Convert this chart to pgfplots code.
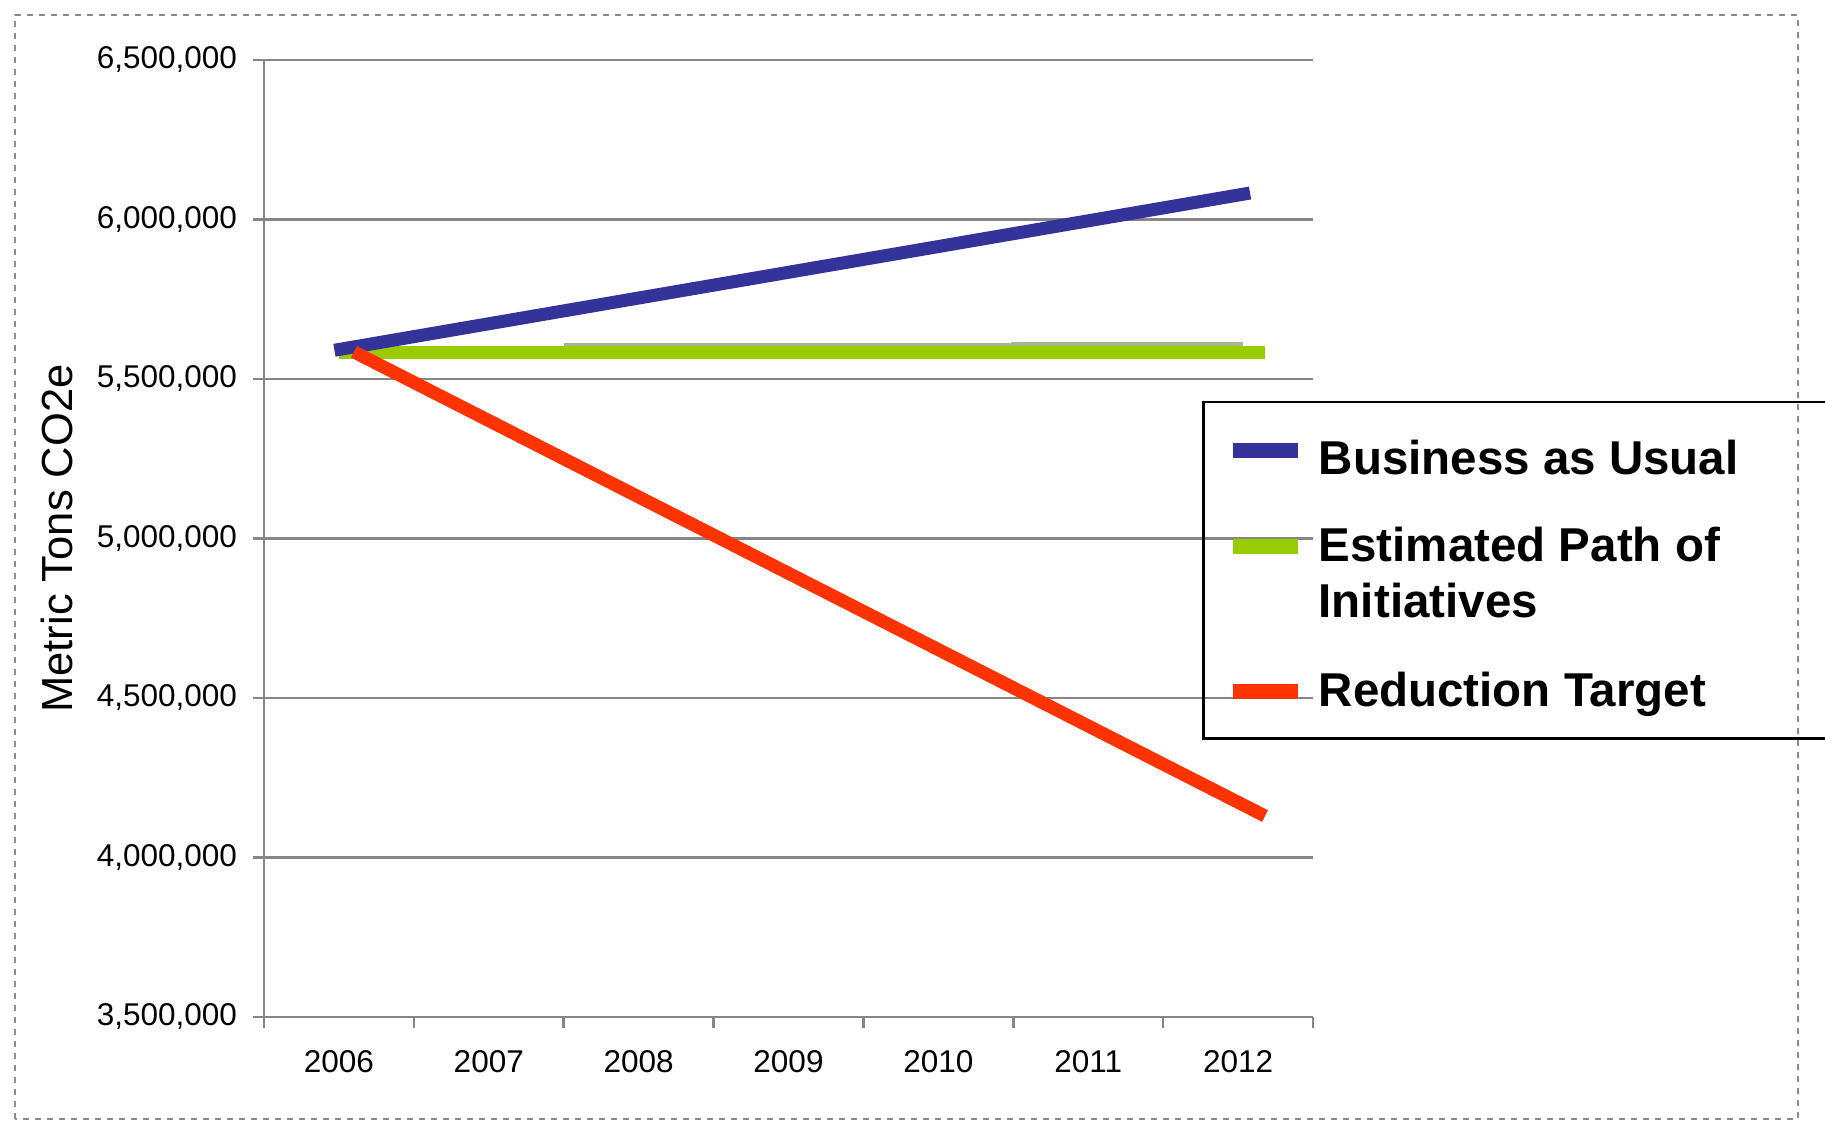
\documentclass[border=0pt]{standalone}
\usepackage{fontspec}
\setmainfont{Liberation Sans}
\usepackage{pgfplots}
\pgfplotsset{compat=1.18}
\definecolor{bau}{RGB}{51,51,153}
\definecolor{epi}{RGB}{153,204,0}
\definecolor{epishade}{RGB}{162,184,142}
\definecolor{rt}{RGB}{255,51,0}
\definecolor{axgray}{RGB}{134,134,134}
\definecolor{bordergray}{RGB}{140,140,140}
\pgfplotsset{
  legbau/.style={legend image code/.code={\draw[bau,line width=3pt] (0pt,4.9pt) -- (12.9pt,4.9pt);}},
  legepi/.style={legend image code/.code={\draw[epi,line width=3pt] (0pt,3pt) -- (12.9pt,3pt);}},
  legrt/.style={legend image code/.code={\draw[rt,line width=3pt] (0pt,3pt) -- (12.9pt,3pt);}},
}
\begin{document}
\begin{tikzpicture}
\fill[white] (0pt,0pt) rectangle (365pt,224.4pt);
\draw[bordergray, line width=0.4pt, dash pattern=on 1.2pt off 1.2pt] (3pt,0.6pt) rectangle (359.6pt,221.4pt);
\begin{axis}[
  at={(52.8pt,21pt)}, anchor=south west,
  scale only axis, width=209.8pt, height=191.4pt,
  xmin=-0.5, xmax=6.5, ymin=3500000, ymax=6500000,
  axis lines*=left,
  axis line style={draw=axgray, line width=0.5pt},
  tick align=outside, major tick length=2.2pt,
  tick style={draw=axgray, line width=0.5pt},
  xtick={-0.5,0.5,...,6.5}, xticklabels={},
  extra x ticks={0,1,2,3,4,5,6},
  extra x tick labels={2006,2007,2008,2009,2010,2011,2012},
  extra x tick style={major tick length=0pt, grid=none, xticklabel style={anchor=north, inner sep=0pt, yshift=-6.6pt}},
  ytick={3500000,4000000,...,6500000},
  scaled y ticks=false,
  /pgf/number format/fixed,
  /pgf/number format/1000 sep={,},
  /pgf/number format/assume math mode=true,
  yticklabel style={anchor=east, inner sep=0pt, xshift=-3.0pt},
  ymajorgrids, grid style={draw=axgray, line width=0.5pt},
  tick label style={font=\fontsize{6.3}{7}\selectfont},
  ylabel={Metric Tons CO2e},
  ylabel style={at={(axis description cs:-0.1975,0.5)}, anchor=center, font=\fontsize{8.7}{10}\selectfont, inner sep=0pt},
  legend style={at={(0.8942,0.6437)}, anchor=north west, draw=black, line width=0.5pt, fill=none,
    inner xsep=4.5pt, inner ysep=4.5pt, row sep=6pt, column sep=2.7pt,
    cells={anchor=base west}, nodes={inner sep=0pt, text depth=},
    font=\fontsize{9.5}{11.2}\selectfont\bfseries},
]
\addlegendimage{legbau}
\addlegendentry{\makebox[110pt][l]{\rule{0pt}{10pt}Business as Usual}}
\addlegendimage{legepi}
\addlegendentry{\begin{tabular}[t]{@{}l@{}}\rule{0pt}{11.3pt}Estimated Path of\\Initiatives\rule[-4.8pt]{0pt}{0pt}\end{tabular}}
\addlegendimage{legrt}
\addlegendentry{Reduction Target}
\addplot[epishade, line width=0.9pt, forget plot] coordinates {(1.5,5606000) (4.5,5606000) (4.5,5610000) (6.03,5610000)};
\addplot[epi, line width=2.6pt, forget plot] coordinates {(0,5582000) (6.18,5582000)};
\addplot[bau, line width=2.6pt, forget plot] coordinates {(-0.03,5590000) (6.08,6083000)};
\addplot[rt, line width=2.6pt, forget plot] coordinates {(0.1,5585000) (6.18,4130000)};
\end{axis}
\pgfresetboundingbox
\path[use as bounding box] (0pt,0pt) rectangle (365pt,224.4pt);
\end{tikzpicture}
\end{document}
